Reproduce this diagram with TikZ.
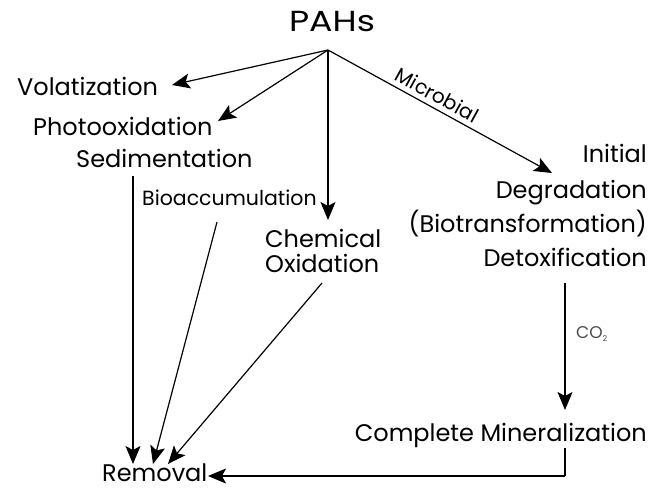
\documentclass[tikz,border=0pt]{standalone}
\usepackage{fontspec}
\setmainfont{Poppins}
\newfontfamily\pahfont[FakeStretch=1.2]{Poppins}
\usetikzlibrary{arrows.meta,calc}
\tikzset{
  lbl/.style={inner sep=0pt, font=\fontsize{24}{25}\selectfont},
  arr/.style={line width=1.2pt, -{Stealth[length=18pt,width=15pt,inset=4pt]}},
  ln/.style={line width=1.2pt}
}
\begin{document}
\begin{tikzpicture}[x=1pt,y=-1pt]
\useasboundingbox (0,0) rectangle (655,488);
\node[inner sep=0pt, anchor=base, font=\pahfont\fontsize{29}{32}\selectfont] (pahs) at (332,31) {PAHs};
\coordinate (apex) at (328,50);
\node[lbl, anchor=base west] (vol) at (17,95) {Volatization};
\node[lbl, anchor=base west] (photo) at (33,135) {Photooxidation};
\node[lbl, anchor=base west] (sed) at (76,167) {Sedimentation};
\node[lbl, anchor=base west, font=\fontsize{20.5}{22}\selectfont] (bio) at (142,205) {Bioaccumulation};
\node[lbl, anchor=base west] (chem) at (265,247) {Chemical};
\node[lbl, anchor=base west] (oxid) at (265,272) {Oxidation};
\node[lbl, anchor=base east] (init) at (647,162) {Initial};
\node[lbl, anchor=base east] (deg) at (647,198) {Degradation};
\node[lbl, anchor=base east] (biot) at (647,232) {(Biotransformation)};
\node[lbl, anchor=base east] (detox) at (647,266) {Detoxification};
\node[lbl, anchor=base east] (min) at (647,441) {Complete Mineralization};
\node[lbl, anchor=base west] (rem) at (102,481) {Removal};
\node[inner sep=0pt, anchor=base west, text=black!70, font=\fontsize{17}{18}\selectfont] (co2) at (576,338) {CO\raisebox{-3pt}{\fontsize{8}{8}\selectfont 2}};
% ends of the connectors
\coordinate (volt) at (172,85);
\coordinate (phot) at (218,121);
\coordinate (chemt) at (328,220);
\coordinate (degt) at (552,173);
\coordinate (seds) at (133,176);
\coordinate (sedt) at (133,464);
\coordinate (bios) at (217,222);
\coordinate (biot2) at (153,464);
\coordinate (chems) at (322,283);
\coordinate (chemt2) at (168,464);
\coordinate (dets) at (565,283);
\coordinate (mint) at (565,410);
\coordinate (mins) at (565,448);
\coordinate (corner) at (565,476);
\coordinate (remt) at (208,476);
\draw[arr] (apex) -- (volt);
\draw[arr] (apex) -- (phot);
\draw[arr] (apex) -- (chemt);
\draw[arr] (apex) -- node[pos=0.46, sloped, above=5pt, inner sep=0pt, font=\fontsize{20}{22}\selectfont] (micro) {Microbial} (degt);
\draw[arr] (seds) -- (sedt);
\draw[arr] (bios) -- (biot2);
\draw[arr] (chems) -- (chemt2);
\draw[arr] (dets) -- (mint);
\draw[ln] (mins) -- (corner);
\draw[arr] (corner) -- (remt);
\end{tikzpicture}
\end{document}
